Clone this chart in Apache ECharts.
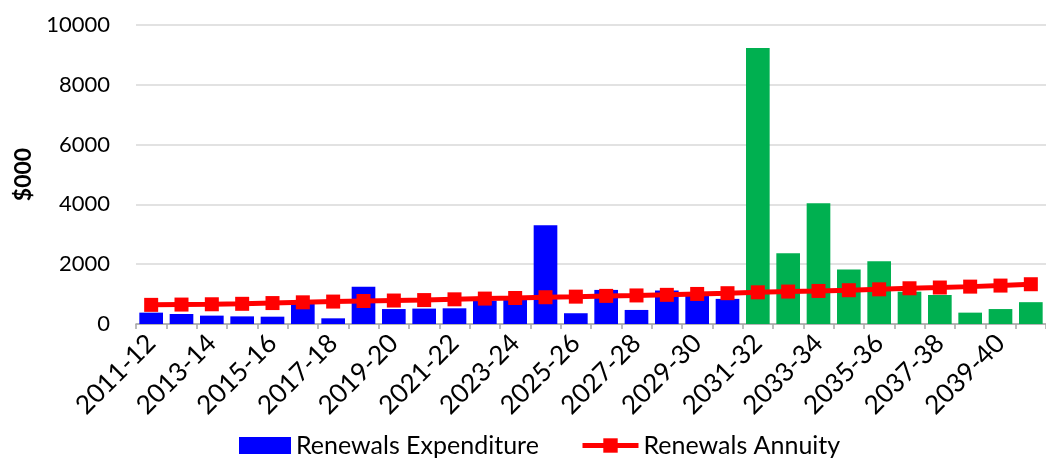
<!DOCTYPE html>
<html>
<head>
<meta charset="utf-8">
<script src="https://cdn.jsdelivr.net/npm/echarts@6/dist/echarts.min.js"></script>
<style>
html,body{margin:0;padding:0;background:#fff;}
#chart{width:1046px;height:459px;}
</style>
</head>
<body>
<div id="chart"></div>
<script>
const categories = ['2011-12','2012-13','2013-14','2014-15','2015-16','2016-17','2017-18','2018-19','2019-20','2020-21',
  '2021-22','2022-23','2023-24','2024-25','2025-26','2026-27','2027-28','2028-29','2029-30','2030-31',
  '2031-32','2032-33','2033-34','2034-35','2035-36','2036-37','2037-38','2038-39','2039-40','2040-41'];
// Renewals expenditure, 2011-12 .. 2030-31 (blue)
const expenditureBlue = [380, 335, 280, 255, 245, 680, 190, 1250, 500, 515,
  525, 780, 870, 3300, 360, 1140, 470, 1120, 1020, 840];
// Renewals expenditure, 2031-32 .. 2040-41 (green)
const expenditureGreen = [9230, 2370, 4040, 1820, 2100, 1080, 970, 380, 500, 730];
// Renewals annuity
const annuity = [640, 650, 660, 675, 700, 725, 750, 770, 785, 800,
  825, 850, 870, 895, 915, 940, 955, 975, 1005, 1030,
  1060, 1085, 1105, 1130, 1160, 1195, 1220, 1250, 1285, 1330];
const yTicks = [0, 2000, 4000, 6000, 8000, 10000];

const BLUE = '#0000FF', GREEN = '#00B050', RED = '#FF0000';
const FONT = 'Lato';

const barData = expenditureBlue.map(v => ({value: v, itemStyle: {color: BLUE}}))
  .concat(expenditureGreen.map(v => ({value: v, itemStyle: {color: GREEN}})));

const chart = echarts.init(document.getElementById('chart'), null, {renderer: 'canvas'});
chart.setOption({
  animation: false,
  backgroundColor: '#fff',
  textStyle: {fontFamily: FONT},
  grid: {left: 136, top: 25, width: 921, height: 299, containLabel: false},
  legend: [
    {data: [{name: 'Renewals Expenditure', icon: 'rect'}], left: 234, bottom: -4, itemWidth: 52, itemHeight: 17, itemGap: 5,
     textStyle: {fontFamily: FONT, fontSize: 25, color: '#000'}},
    {data: ['Renewals Annuity'], left: 575, bottom: -4, itemWidth: 56, itemHeight: 18, itemGap: 5,
     lineStyle: {width: 5, color: RED}, itemStyle: {color: RED},
     textStyle: {fontFamily: FONT, fontSize: 25, color: '#000'}}
  ],
  xAxis: {
    type: 'category',
    data: categories,
    boundaryGap: true,
    axisLine: {lineStyle: {color: '#a6a6a6', width: 1.5}},
    axisTick: {show: true, interval: 0, length: 5, lineStyle: {color: '#a6a6a6', width: 1.5}},
    axisLabel: {interval: 1, rotate: 45, margin: 15, fontFamily: FONT, fontSize: 26, color: '#000'}
  },
  yAxis: {
    type: 'value',
    min: yTicks[0], max: yTicks[yTicks.length - 1], interval: 2000,
    name: '$000', nameLocation: 'middle', nameGap: 101, nameRotate: 90,
    nameTextStyle: {fontFamily: FONT, fontSize: 23, fontWeight: 'bold', color: '#000'},
    axisLine: {show: false},
    axisTick: {show: false},
    axisLabel: {margin: 26, fontFamily: FONT, fontSize: 22, color: '#000', formatter: v => String(v)},
    splitLine: {lineStyle: {color: '#d9d9d9', width: 1.5}}
  },
  series: [
    {name: 'Renewals Expenditure', type: 'bar', data: barData, barCategoryGap: '22%',
     itemStyle: {color: BLUE}},
    {name: 'Renewals Annuity', type: 'line', data: annuity, symbol: 'rect', symbolSize: 14,
     lineStyle: {color: RED, width: 5}, itemStyle: {color: RED}, z: 5}
  ]
});
</script>
</body>
</html>
